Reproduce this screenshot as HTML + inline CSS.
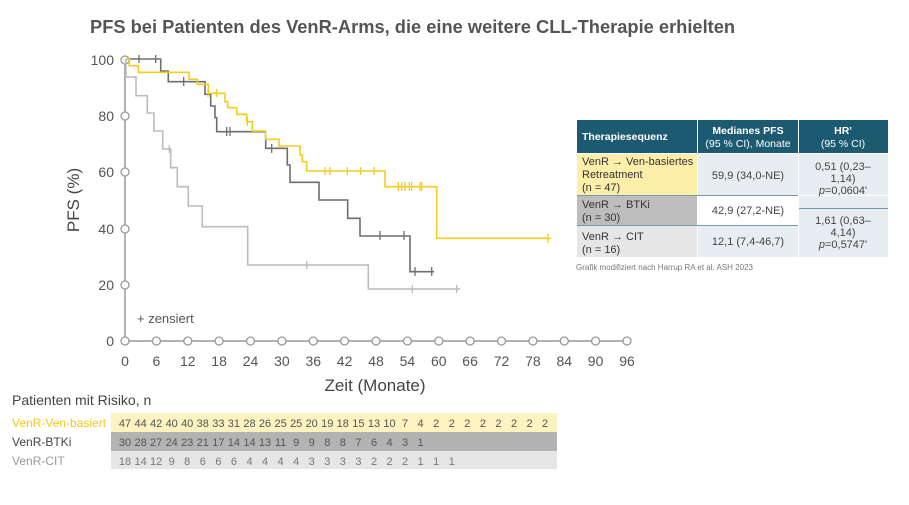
<!DOCTYPE html>
<html><head><meta charset="utf-8"><style>
body{margin:0;background:#fff;font-family:"Liberation Sans",sans-serif;}
svg{display:block}
</style></head><body>
<svg width="909" height="505" viewBox="0 0 909 505" xmlns="http://www.w3.org/2000/svg" font-family="Liberation Sans, sans-serif">
<text x="90" y="33" font-size="18.3" fill="#555" font-weight="bold">PFS bei Patienten des VenR-Arms, die eine weitere CLL-Therapie erhielten</text>
<line x1="125" y1="59" x2="125" y2="341" stroke="#999" stroke-width="1.5"/>
<line x1="125" y1="341" x2="627" y2="341" stroke="#999" stroke-width="1.5"/>
<g fill="#fff" stroke="#999" stroke-width="1.3">
<circle cx="125" cy="60" r="4"/><circle cx="125" cy="116" r="4"/><circle cx="125" cy="172" r="4"/><circle cx="125" cy="229" r="4"/><circle cx="125" cy="285" r="4"/>
<circle cx="125" cy="341" r="4"/><circle cx="156.4" cy="341" r="4"/><circle cx="187.8" cy="341" r="4"/><circle cx="219.1" cy="341" r="4"/><circle cx="250.5" cy="341" r="4"/><circle cx="281.9" cy="341" r="4"/><circle cx="313.3" cy="341" r="4"/><circle cx="344.6" cy="341" r="4"/><circle cx="376" cy="341" r="4"/><circle cx="407.4" cy="341" r="4"/><circle cx="438.8" cy="341" r="4"/><circle cx="470.1" cy="341" r="4"/><circle cx="501.5" cy="341" r="4"/><circle cx="532.9" cy="341" r="4"/><circle cx="564.3" cy="341" r="4"/><circle cx="595.6" cy="341" r="4"/><circle cx="627" cy="341" r="4"/>
</g>
<g font-size="14" fill="#555" text-anchor="end">
<text x="114" y="65">100</text><text x="114" y="121">80</text><text x="114" y="177">60</text><text x="114" y="234">40</text><text x="114" y="290">20</text><text x="114" y="346">0</text>
</g>
<g font-size="14" fill="#555" text-anchor="middle">
<text x="125" y="366">0</text><text x="156.4" y="366">6</text><text x="187.8" y="366">12</text><text x="219.1" y="366">18</text><text x="250.5" y="366">24</text><text x="281.9" y="366">30</text><text x="313.3" y="366">36</text><text x="344.6" y="366">42</text><text x="376" y="366">48</text><text x="407.4" y="366">54</text><text x="438.8" y="366">60</text><text x="470.1" y="366">66</text><text x="501.5" y="366">72</text><text x="532.9" y="366">78</text><text x="564.3" y="366">84</text><text x="595.6" y="366">90</text><text x="627" y="366">96</text>
</g>
<text x="375" y="391" font-size="17" fill="#444" text-anchor="middle">Zeit (Monate)</text>
<text transform="translate(79,200) rotate(-90)" font-size="17" fill="#444" text-anchor="middle">PFS (%)</text>
<text x="137" y="323" font-size="13" fill="#555">+ zensiert</text>
<path d="M126,59 V77 H136 V95.7 H147.3 V113 H154 V131 H162.7 V149 H170.7 V167.7 H177.3 V186.7 H188.3 V206 H202.3 V226.7 H247.7 V265 H368.3 V289 H460" fill="none" stroke="#bbb" stroke-width="1.6"/>
<g stroke="#bbb" stroke-width="1.3"><line x1="169.3" y1="145" x2="169.3" y2="153"/><line x1="306.7" y1="261" x2="306.7" y2="269"/><line x1="412.3" y1="285" x2="412.3" y2="293"/><line x1="456.7" y1="285" x2="456.7" y2="293"/></g>
<path d="M126,59 H160.7 V71 H168.3 V81.7 H205 V94.3 H210.7 V106 H215 V117.7 H216.7 V131.7 H265.7 V148.3 H287.3 V165 H290 V182.3 H319 V200 H347.7 V218.3 H360 V236 H410 V271.7 H434" fill="none" stroke="#6e6e6e" stroke-width="1.6"/>
<g stroke="#6e6e6e" stroke-width="1.3"><line x1="139" y1="55" x2="139" y2="63"/><line x1="155.7" y1="55" x2="155.7" y2="63"/><line x1="183.7" y1="77" x2="183.7" y2="86"/><line x1="226.7" y1="127" x2="226.7" y2="136"/><line x1="230" y1="127" x2="230" y2="136"/><line x1="271.7" y1="144" x2="271.7" y2="153"/><line x1="380" y1="231" x2="380" y2="240"/><line x1="404" y1="231" x2="404" y2="240"/><line x1="415" y1="267" x2="415" y2="276"/><line x1="431.7" y1="267" x2="431.7" y2="276"/></g>
<path d="M126,59 H129.3 V65.7 H138.3 V72.3 H189 V79.3 H197.3 V84.3 H208.3 V93.3 H225 V101.7 H227.7 V107.7 H236.7 V114.3 H246.7 V121.7 H252.3 V131 H265.7 V139.3 H279 V146 H300 V155 H302.3 V161.7 H306.7 V171 H385 V186.7 H436.7 V238.3 H551" fill="none" stroke="#f5cc1f" stroke-width="1.6"/>
<g stroke="#f5cc1f" stroke-width="1.3"><line x1="208" y1="89" x2="208" y2="97"/><line x1="216.7" y1="89" x2="216.7" y2="97"/><line x1="247.3" y1="117" x2="247.3" y2="126"/><line x1="325" y1="167" x2="325" y2="175"/><line x1="330" y1="167" x2="330" y2="175"/><line x1="347.3" y1="167" x2="347.3" y2="175"/><line x1="360.7" y1="167" x2="360.7" y2="175"/><line x1="374" y1="167" x2="374" y2="175"/><line x1="398.3" y1="182" x2="398.3" y2="191"/><line x1="401.7" y1="182" x2="401.7" y2="191"/><line x1="405" y1="182" x2="405" y2="191"/><line x1="409.3" y1="182" x2="409.3" y2="191"/><line x1="411.7" y1="182" x2="411.7" y2="191"/><line x1="420" y1="182" x2="420" y2="191"/><line x1="421.7" y1="182" x2="421.7" y2="191"/><line x1="548" y1="234" x2="548" y2="243"/></g>
<rect x="577" y="120" width="120" height="33" fill="#1c5a72"/>
<rect x="698" y="120" width="100" height="33" fill="#1c5a72"/>
<rect x="799" y="120" width="89" height="33" fill="#1c5a72"/>
<rect x="577" y="154" width="120" height="41" fill="#fdeeaa"/>
<rect x="698" y="154" width="100" height="41" fill="#e8edf1"/>
<rect x="799" y="154" width="89" height="41" fill="#e8edf1"/>
<rect x="577" y="196" width="120" height="29" fill="#bdbdbd"/>
<rect x="698" y="196" width="100" height="29" fill="#fff"/>
<rect x="799" y="196" width="89" height="12" fill="#e8edf1"/>
<rect x="799" y="209" width="89" height="48" fill="#e8edf1"/>
<rect x="577" y="226" width="120" height="31" fill="#e6e6e6"/>
<rect x="698" y="226" width="100" height="31" fill="#e8edf1"/>
<g stroke="#6f9db0" stroke-width="1"><line x1="577" y1="195.5" x2="798" y2="195.5"/><line x1="577" y1="225.5" x2="798" y2="225.5"/><line x1="799" y1="208.5" x2="888" y2="208.5"/></g>
<g font-size="10.5" fill="#fff" font-weight="bold"><text x="582" y="140">Therapiesequenz</text></g>
<g font-size="10.5" fill="#fff" text-anchor="middle"><text x="748" y="134" font-weight="bold">Medianes PFS</text><text x="748" y="147">(95 % CI), Monate</text><text x="843" y="134" font-weight="bold">HR'</text><text x="843" y="147">(95 % CI)</text></g>
<g font-size="11" fill="#333">
<text x="582" y="165">VenR → Ven-basiertes</text><text x="582" y="178">Retreatment</text><text x="582" y="191">(n = 47)</text>
<text x="582" y="208">VenR → BTKi</text><text x="582" y="221">(n = 30)</text>
<text x="582" y="240">VenR → CIT</text><text x="582" y="253">(n = 16)</text>
</g>
<g font-size="11" fill="#444" text-anchor="middle">
<text x="748" y="179">59,9 (34,0-NE)</text><text x="748" y="214">42,9 (27,2-NE)</text><text x="748" y="245">12,1 (7,4-46,7)</text>
<text x="843" y="170">0,51 (0,23–</text><text x="843" y="182">1,14)</text><text x="843" y="194"><tspan font-style="italic">p</tspan>=0,0604'</text>
<text x="843" y="224">1,61 (0,63–</text><text x="843" y="236">4,14)</text><text x="843" y="248"><tspan font-style="italic">p</tspan>=0,5747'</text>
</g>
<text x="576" y="270" font-size="8" fill="#777">Grafik modifiziert nach Harrup RA et al. ASH 2023</text>
<text x="12" y="405" font-size="14" fill="#444">Patienten mit Risiko, n</text>
<rect x="111" y="413" width="446" height="19" fill="#fdf3c0"/>
<rect x="111" y="432" width="446" height="19" fill="#b3b3b3"/>
<rect x="111" y="451" width="446" height="18" fill="#e6e6e6"/>
<g font-size="12"><text x="12" y="427" fill="#f5c81a">VenR-Ven-basiert</text><text x="12" y="446" fill="#444">VenR-BTKi</text><text x="12" y="465" fill="#999">VenR-CIT</text></g>
<g font-size="11" fill="#555" text-anchor="middle">
<text y="427"><tspan x="125">47</tspan><tspan x="140.6">44</tspan><tspan x="156.1">42</tspan><tspan x="171.7">40</tspan><tspan x="187.2">40</tspan><tspan x="202.8">38</tspan><tspan x="218.4">33</tspan><tspan x="233.9">31</tspan><tspan x="249.5">28</tspan><tspan x="265">26</tspan><tspan x="280.6">25</tspan><tspan x="296.2">25</tspan><tspan x="311.7">20</tspan><tspan x="327.3">19</tspan><tspan x="342.8">18</tspan><tspan x="358.4">15</tspan><tspan x="374">13</tspan><tspan x="389.5">10</tspan><tspan x="405">7</tspan><tspan x="420.6">4</tspan><tspan x="436.2">2</tspan><tspan x="451.8">2</tspan><tspan x="467.3">2</tspan><tspan x="482.9">2</tspan><tspan x="498.4">2</tspan><tspan x="514">2</tspan><tspan x="529.6">2</tspan><tspan x="545.1">2</tspan></text>
<text y="446"><tspan x="125">30</tspan><tspan x="140.6">28</tspan><tspan x="156.1">27</tspan><tspan x="171.7">24</tspan><tspan x="187.2">23</tspan><tspan x="202.8">21</tspan><tspan x="218.4">17</tspan><tspan x="233.9">14</tspan><tspan x="249.5">14</tspan><tspan x="265">13</tspan><tspan x="280.6">11</tspan><tspan x="296.2">9</tspan><tspan x="311.7">9</tspan><tspan x="327.3">8</tspan><tspan x="342.8">8</tspan><tspan x="358.4">7</tspan><tspan x="374">6</tspan><tspan x="389.5">4</tspan><tspan x="405">3</tspan><tspan x="420.6">1</tspan></text>
<text y="465" fill="#777"><tspan x="125">18</tspan><tspan x="140.6">14</tspan><tspan x="156.1">12</tspan><tspan x="171.7">9</tspan><tspan x="187.2">8</tspan><tspan x="202.8">6</tspan><tspan x="218.4">6</tspan><tspan x="233.9">6</tspan><tspan x="249.5">4</tspan><tspan x="265">4</tspan><tspan x="280.6">4</tspan><tspan x="296.2">4</tspan><tspan x="311.7">3</tspan><tspan x="327.3">3</tspan><tspan x="342.8">3</tspan><tspan x="358.4">3</tspan><tspan x="374">2</tspan><tspan x="389.5">2</tspan><tspan x="405">2</tspan><tspan x="420.6">1</tspan><tspan x="436.2">1</tspan><tspan x="451.8">1</tspan></text>
</g>
</svg>
</body></html>
